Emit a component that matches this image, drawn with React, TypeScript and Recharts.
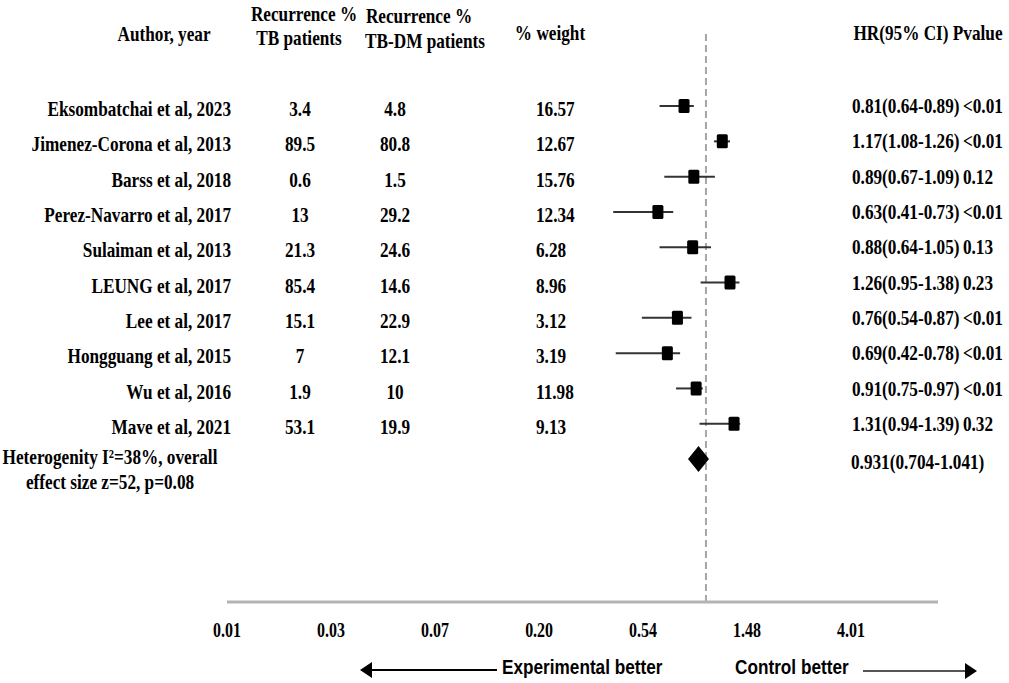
import React from 'react';
import { ScatterChart, Scatter, XAxis, YAxis, ReferenceLine, Customized } from 'recharts';

const authors = [
  'Eksombatchai et al, 2023',
  'Jimenez-Corona et al, 2013',
  'Barss et al, 2018',
  'Perez-Navarro et al, 2017',
  'Sulaiman et al, 2013',
  'LEUNG et al, 2017',
  'Lee et al, 2017',
  'Hongguang et al, 2015',
  'Wu et al, 2016',
  'Mave et al, 2021',
];
const tbRecurrence = ['3.4', '89.5', '0.6', '13', '21.3', '85.4', '15.1', '7', '1.9', '53.1'];
const tbdmRecurrence = ['4.8', '80.8', '1.5', '29.2', '24.6', '14.6', '22.9', '12.1', '10', '19.9'];
const weights = ['16.57', '12.67', '15.76', '12.34', '6.28', '8.96', '3.12', '3.19', '11.98', '9.13'];
const hr = [0.81, 1.17, 0.89, 0.63, 0.88, 1.26, 0.76, 0.69, 0.91, 1.31];
const ciLow = [0.64, 1.08, 0.67, 0.41, 0.64, 0.95, 0.54, 0.42, 0.75, 0.94];
const ciHigh = [0.89, 1.26, 1.09, 0.73, 1.05, 1.38, 0.87, 0.78, 0.97, 1.39];
const pValues = ['<0.01', '<0.01', '0.12', '<0.01', '0.13', '0.23', '<0.01', '<0.01', '<0.01', '0.32'];
const overallHr = 0.931;
const overallLow = 0.704;
const overallHigh = 1.041;
const heterogeneityLines = ['Heterogenity I\u00b2=38%, overall', 'effect size z=52, p=0.08'];

const xTicks = [0.01, 0.0272, 0.0739, 0.201, 0.546, 1.484, 4.034];
const xTickLabels = ['0.01', '0.03', '0.07', '0.20', '0.54', '1.48', '4.01'];

const studyData = hr.map((v, i) => ({ hr: v, row: i }));
const overallData = [{ hr: overallHr, row: 10 }];
const rowTicks = [0, 1, 2, 3, 4, 5, 6, 7, 8, 9, 10];

const SERIF = '"Liberation Serif", "Times New Roman", serif';
const SANS = '"Liberation Sans", Arial, sans-serif';
const SX = 0.82;

function T({ x, y, anchor = 'middle', size = 21, sx = SX, family = SERIF, weight = 'bold', children }: any) {
  return (
    <text
      transform={`translate(${x},${y}) scale(${sx},1)`}
      textAnchor={anchor}
      dominantBaseline="central"
      fontFamily={family}
      fontWeight={weight}
      fontSize={size}
      fill="#000"
    >
      {children}
    </text>
  );
}

const fmt = (v: number, d = 2) => v.toFixed(d);

const RowTick = (props: any) => {
  const { y, payload } = props;
  const i = payload.value;
  if (i < 10) {
    return (
      <g>
        <T x={231} y={y + 3} anchor="end">{authors[i]}</T>
        <T x={300} y={y + 3}>{tbRecurrence[i]}</T>
        <T x={395} y={y + 3}>{tbdmRecurrence[i]}</T>
        <T x={536} y={y + 3} anchor="start">{weights[i]}</T>
        <T x={852} y={y} anchor="start">{`${fmt(hr[i])}(${fmt(ciLow[i])}-${fmt(ciHigh[i])})\u2009${pValues[i]}`}</T>
      </g>
    );
  }
  return (
    <g>
      <T x={110} y={y - 2}>{heterogeneityLines[0]}</T>
      <T x={110} y={y + 23}>{heterogeneityLines[1]}</T>
      <T x={851} y={y + 3} anchor="start">{`${fmt(overallHr, 3)}(${fmt(overallLow, 3)}-${fmt(overallHigh, 3)})`}</T>
    </g>
  );
};

const XTick = (props: any) => {
  const { x, y, payload, index } = props;
  return <T x={x} y={y + 28} size={21} sx={0.76}>{xTickLabels[index] ?? String(payload.value)}</T>;
};

const Square = (props: any) => {
  const { cx, cy } = props;
  return <rect x={cx - 5.5} y={cy - 7} width={11} height={14} rx={1.5} fill="#000" />;
};

const Diamond = (props: any) => {
  const { cx, cy } = props;
  return <polygon points={`${cx},${cy - 13} ${cx + 10.5},${cy} ${cx},${cy + 13} ${cx - 10.5},${cy}`} fill="#000" />;
};

const Decorations = () => (
  <g>
    <T x={164} y={34}>Author, year</T>
    <T x={304} y={14}>Recurrence %</T>
    <T x={299} y={38}>TB patients</T>
    <T x={419} y={16}>Recurrence %</T>
    <T x={425} y={41}>TB-DM patients</T>
    <T x={550} y={33}>% weight</T>
    <T x={928} y={33}>HR(95% CI) Pvalue</T>

    <line x1={371} y1={670} x2={497} y2={670} stroke="#000" strokeWidth={2} />
    <polygon points="360,670 372,662 372,678" fill="#000" />
    <T x={502} y={667} anchor="start" family={SANS} size={20} sx={0.86}>Experimental better</T>
    <T x={735} y={667} anchor="start" family={SANS} size={20} sx={0.86}>Control better</T>
    <line x1={863} y1={671} x2={966} y2={671} stroke="#555" strokeWidth={2} />
    <polygon points="977,671 965,663 965,679" fill="#000" />
  </g>
);

export default function App() {
  return (
    <div style={{ position: 'absolute', left: 0, top: 0, background: '#fff' }}>
      <ScatterChart width={1009} height={683} margin={{ top: 33, right: 71, bottom: 41, left: 0 }}>
        <XAxis
          type="number"
          dataKey="hr"
          scale="log"
          domain={[0.01, 9.31]}
          allowDataOverflow
          ticks={xTicks}
          interval={0}
          tick={<XTick />}
          tickLine={false}
          tickSize={0}
          tickMargin={0}
          height={40}
          axisLine={{ stroke: '#b3b3b3', strokeWidth: 3 }}
        />
        <YAxis
          type="number"
          dataKey="row"
          domain={[-2.07, 14.05]}
          allowDataOverflow
          reversed
          ticks={rowTicks}
          interval={0}
          width={227}
          axisLine={false}
          tickLine={false}
          tick={<RowTick />}
        />
        <ReferenceLine x={1} stroke="#a6a6a6" strokeWidth={2} strokeDasharray="7 4" />
        {hr.map((_, i) => (
          <ReferenceLine
            key={i}
            segment={[{ x: ciLow[i], y: i }, { x: ciHigh[i], y: i }]}
            stroke="#333"
            strokeWidth={2}
          />
        ))}
        <Scatter data={studyData} shape={<Square />} isAnimationActive={false} />
        <Scatter data={overallData} shape={<Diamond />} isAnimationActive={false} />
        <Customized component={Decorations} />
      </ScatterChart>
    </div>
  );
}
